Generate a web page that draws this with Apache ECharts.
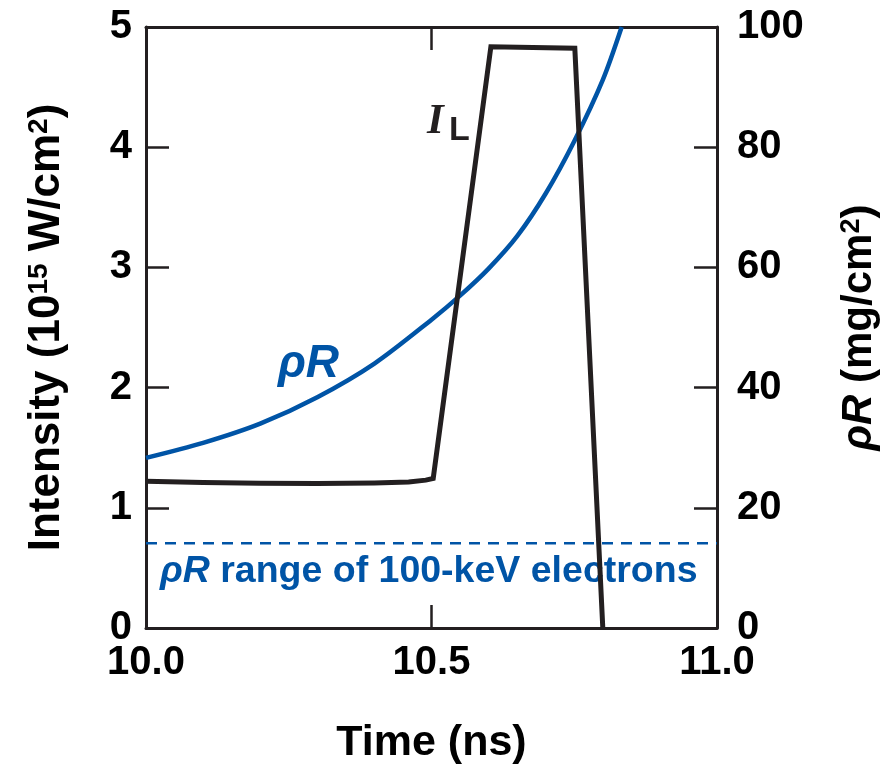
<!DOCTYPE html>
<html>
<head>
<meta charset="utf-8">
<script src="https://cdn.jsdelivr.net/npm/echarts@6/dist/echarts.min.js"></script>
<style>
  html, body { margin: 0; padding: 0; background: #fff; }
  #main { width: 886px; height: 767px; }
</style>
</head>
<body>
<div id="main"></div>
<script>
// laser intensity I_L (10^15 W/cm^2)
var laserTime = [10.0, 10.1, 10.2, 10.3, 10.4, 10.46, 10.49, 10.503, 10.604, 10.751, 10.8];
var laserIntensity = [1.22, 1.21, 1.205, 1.203, 1.207, 1.215, 1.23, 1.245, 4.836, 4.823, 0];

// areal density rhoR (mg/cm^2)
var rhoRTime = [10.0, 10.1, 10.2, 10.3, 10.4, 10.5, 10.55, 10.6, 10.65, 10.7, 10.75, 10.8, 10.833];
var rhoRValue = [28.3, 30.8, 34.0, 38.4, 44.0, 51.3, 55.3, 59.8, 65.2, 72.3, 81.0, 91.2, 100];

// rhoR range of 100-keV electrons
var electronRangeTime = [10.0, 11.0];
var electronRange = [14.1, 14.1];

var black = '#231f20', blue = '#0054a6';
var font = 'Liberation Sans';

function pairs(xs, ys) {
    return xs.map(function (x, i) { return [x, ys[i]]; });
}
function axisLine() {
    return { show: true, onZero: false, lineStyle: { color: black, width: 3 } };
}
function tickIn() {
    return { show: true, inside: true, length: 23, lineStyle: { color: black, width: 2.5 } };
}
function tickLabel(margin) {
    return { show: true, inside: false, margin: margin, color: '#000', fontFamily: font, fontWeight: 'bold', fontSize: 40 };
}

var chart = echarts.init(document.getElementById('main'));

var xLabel = tickLabel(15);
xLabel.formatter = function (v) { return v.toFixed(1); };

var option = {
    backgroundColor: '#fff',
    animation: false,
    grid: {
        left: 146, right: 169, top: 27, bottom: 139,
        containLabel: false,
        outerBoundsMode: 'none'
    },
    xAxis: [{
        type: 'value',
        position: 'bottom',
        min: 10, max: 11, interval: 0.5,
        axisLine: axisLine(),
        axisTick: tickIn(),
        splitLine: { show: false },
        axisLabel: xLabel,
        name: 'Time (ns)',
        nameLocation: 'middle',
        nameGap: 94,
        nameTextStyle: { color: '#000', fontFamily: font, fontWeight: 'bold', fontSize: 43 }
    }, {
        type: 'value',
        position: 'top',
        min: 10, max: 11, interval: 0.5,
        axisLine: axisLine(),
        axisTick: tickIn(),
        axisLabel: { show: false },
        splitLine: { show: false }
    }],
    yAxis: [{
        type: 'value',
        position: 'left',
        min: 0, max: 5, interval: 1,
        axisLine: axisLine(),
        axisTick: tickIn(),
        splitLine: { show: false },
        axisLabel: tickLabel(14),
        name: '{n|Intensity (10}{s|15}{n| W/cm}{s|2}{n|)}',
        nameLocation: 'middle',
        nameRotate: 90,
        nameGap: 77,
        nameTextStyle: {
            color: '#000',
            rich: {
                n: { fontFamily: font, fontWeight: 'bold', fontSize: 44, color: '#000' },
                s: { fontFamily: font, fontWeight: 'bold', fontSize: 28, color: '#000', verticalAlign: 'top' }
            }
        }
    }, {
        type: 'value',
        position: 'right',
        min: 0, max: 100, interval: 20,
        axisLine: axisLine(),
        axisTick: tickIn(),
        splitLine: { show: false },
        axisLabel: tickLabel(20),
        name: '{i|ρR}{n| (mg/cm}{s|2}{n|)}',
        nameLocation: 'middle',
        nameRotate: 90,
        nameGap: 121,
        nameTextStyle: {
            color: '#000',
            rich: {
                i: { fontFamily: font, fontWeight: 'bold', fontStyle: 'italic', fontSize: 42, color: '#000' },
                n: { fontFamily: font, fontWeight: 'bold', fontSize: 42, color: '#000' },
                s: { fontFamily: font, fontWeight: 'bold', fontSize: 27, color: '#000', verticalAlign: 'top' }
            }
        }
    }],
    series: [{
        name: 'range',
        type: 'line',
        yAxisIndex: 1,
        data: pairs(electronRangeTime, electronRange),
        symbol: 'none',
        lineStyle: { color: blue, width: 2.5, type: [11, 8] },
        z: 2
    }, {
        name: 'rhoR',
        type: 'line',
        yAxisIndex: 1,
        data: pairs(rhoRTime, rhoRValue),
        symbol: 'none',
        smooth: 0.3,
        lineStyle: { color: blue, width: 4.5 },
        z: 3
    }, {
        name: 'IL',
        type: 'line',
        data: pairs(laserTime, laserIntensity),
        symbol: 'none',
        lineStyle: { color: black, width: 5, join: 'miter' },
        z: 4
    }],
    graphic: [{
        type: 'text', left: 278, top: 341,
        style: { text: 'ρR', fill: blue, font: 'italic bold 46px "Liberation Sans"' }
    }, {
        type: 'text', left: 427, top: 100,
        style: { text: 'I', fill: black, font: 'italic bold 43px "Liberation Serif"' }
    }, {
        type: 'text', left: 449, top: 114,
        style: { text: 'L', fill: black, font: 'bold 34px "Liberation Sans"' }
    }, {
        type: 'text', left: 160, top: 553,
        style: {
            text: '{i|ρR}{n| range of 100-keV electrons}',
            rich: {
                i: { fontFamily: font, fontWeight: 'bold', fontStyle: 'italic', fontSize: 37.5, fill: blue, color: blue },
                n: { fontFamily: font, fontWeight: 'bold', fontSize: 37.5, fill: blue, color: blue }
            }
        }
    }]
};

chart.setOption(option);
</script>
</body>
</html>
